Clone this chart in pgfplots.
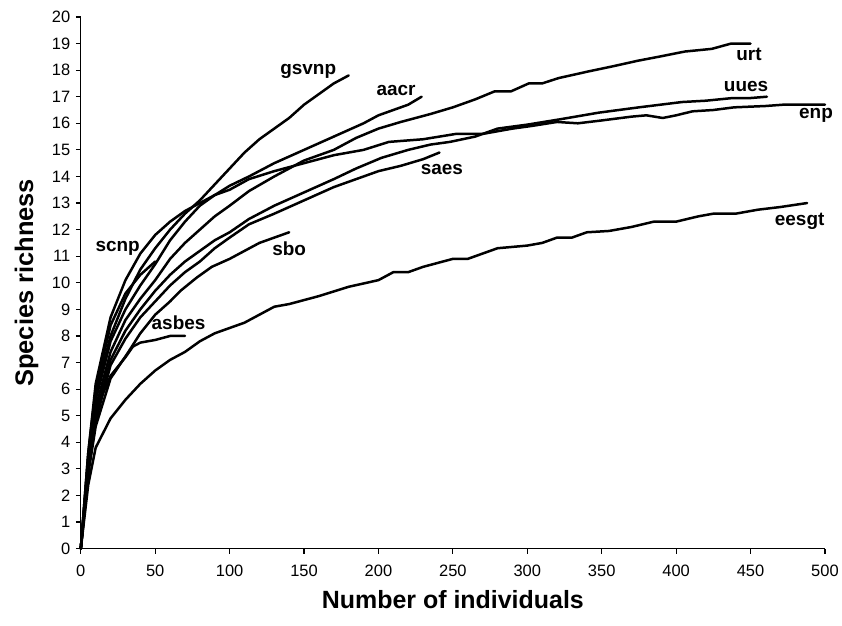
\documentclass[border=0pt]{standalone}
\usepackage{fontspec}
\setmainfont{Liberation Sans}
\usepackage{pgfplots}
\pgfplotsset{compat=1.18}
\tikzset{curve/.style={black, solid, mark=none, line width=2.5pt, line join=round, line cap=round}}
\begin{document}
\begin{tikzpicture}
\begin{axis}[
  scale only axis,
  width=746pt, height=533pt,
  xmin=0, xmax=500, ymin=0, ymax=20,
  axis x line*=bottom, axis y line*=left,
  axis line style={line width=1.4pt},
  xtick={0,50,...,500}, ytick={0,1,...,20},
  tick align=outside, major tick length=5pt,
  tick style={line width=1.2pt, black},
  /pgf/number format/assume math mode=true,
  ticklabel style={font=\fontsize{16.5}{19}\selectfont},
  xticklabel style={yshift=-8pt},
  yticklabel style={xshift=-2pt},
  xlabel={Number of individuals},
  ylabel={Species richness},
  xlabel style={font=\bfseries\fontsize{25}{29}\selectfont, at={(axis description cs:0.5,-0.096)}, anchor=center},
  ylabel style={font=\bfseries\fontsize{25.5}{29}\selectfont, at={(axis description cs:-0.073,0.5)}, anchor=center},
  clip=false,
]
% enp
\addplot[curve] coordinates {(0,0)(5,3.6)(10,6.2)(20,8.7)(30,10.1)(40,11.1)(50,11.8)(60,12.3)(70,12.7)(80,13.0)(90,13.3)(100,13.5)(113,13.9)(130,14.2)(150,14.5)(170,14.8)(190,15.0)(207,15.3)(230,15.4)(252,15.6)(270,15.6)(290,15.8)(303,15.9)(320,16.05)(334,16.0)(349,16.1)(370,16.25)(380,16.3)(391,16.2)(400,16.3)(411,16.45)(425,16.5)(439,16.6)(460,16.65)(472,16.7)(490,16.7)(500,16.7)};
% urt
\addplot[curve] coordinates {(0,0)(5,3.2)(10,5.3)(20,7.4)(30,8.6)(40,9.4)(50,10.1)(60,10.9)(70,11.5)(80,12.0)(90,12.5)(100,12.9)(113,13.45)(130,14.0)(150,14.6)(170,15.0)(185,15.45)(200,15.8)(215,16.05)(235,16.35)(250,16.6)(265,16.9)(278,17.2)(289,17.2)(301,17.5)(310,17.5)(321,17.7)(329,17.8)(341,17.95)(358,18.15)(374,18.35)(388,18.5)(406,18.7)(424,18.8)(437,19.0)(450,19.0)};
% uues
\addplot[curve] coordinates {(0,0)(5,3.0)(10,5.0)(20,7.1)(30,8.2)(40,9.0)(50,9.7)(60,10.3)(70,10.8)(80,11.2)(90,11.6)(100,11.9)(113,12.4)(130,12.9)(150,13.4)(170,13.9)(185,14.3)(202,14.7)(220,15.0)(235,15.2)(248,15.3)(265,15.5)(280,15.8)(300,15.95)(322,16.15)(348,16.4)(375,16.6)(404,16.8)(420,16.85)(438,16.95)(450,16.95)(461,17.0)};
% gsvnp
\addplot[curve] coordinates {(0,0)(5,3.4)(10,5.8)(20,8.0)(30,9.4)(40,10.5)(50,11.3)(60,12.0)(70,12.6)(80,13.1)(90,13.7)(100,14.3)(110,14.9)(120,15.4)(130,15.8)(140,16.2)(150,16.7)(160,17.1)(170,17.5)(180,17.8)};
% aacr
\addplot[curve] coordinates {(0,0)(5,3.3)(10,5.6)(20,7.8)(30,9.0)(40,9.9)(50,10.7)(60,11.6)(70,12.3)(80,12.9)(90,13.3)(100,13.65)(113,14.0)(130,14.5)(150,15.0)(170,15.5)(190,16.0)(200,16.3)(210,16.5)(220,16.7)(229,17.0)};
% saes
\addplot[curve] coordinates {(0,0)(5,2.9)(10,4.8)(20,6.9)(30,7.9)(40,8.7)(50,9.3)(60,9.9)(70,10.4)(80,10.8)(90,11.3)(100,11.7)(113,12.2)(130,12.6)(150,13.1)(170,13.6)(185,13.9)(200,14.2)(215,14.4)(230,14.65)(241,14.9)};
% sbo
\addplot[curve] coordinates {(0,0)(5,2.8)(10,4.6)(20,6.4)(32,7.4)(40,8.1)(50,8.8)(60,9.3)(67,9.7)(78,10.2)(88,10.6)(100,10.9)(110,11.2)(120,11.5)(130,11.7)(140,11.9)};
% asbes
\addplot[curve] coordinates {(0,0)(5,3.0)(10,5.2)(20,6.5)(30,7.2)(35,7.6)(40,7.75)(50,7.85)(60,8.0)(70,8.0)};
% eesgt
\addplot[curve] coordinates {(0,0)(5,2.4)(10,3.8)(20,4.9)(30,5.6)(40,6.2)(50,6.7)(60,7.1)(70,7.4)(80,7.8)(90,8.1)(100,8.3)(110,8.5)(120,8.8)(130,9.1)(140,9.2)(160,9.5)(180,9.85)(200,10.1)(210,10.4)(220,10.4)(230,10.6)(250,10.9)(260,10.9)(280,11.3)(300,11.4)(310,11.5)(320,11.7)(330,11.7)(340,11.9)(355,11.95)(370,12.1)(385,12.3)(400,12.3)(415,12.5)(425,12.6)(440,12.6)(455,12.75)(470,12.85)(488,13.0)};
% scnp
\addplot[curve] coordinates {(0,0)(5,3.6)(10,6.0)(20,8.4)(30,9.6)(40,10.3)(50,10.8)};
\begin{scope}[every node/.style={font=\bfseries\fontsize{19}{22}\selectfont, inner sep=0pt}]
\node at (axis cs:152.8,17.95) {gsvnp};
\node at (axis cs:211.8,17.25) {aacr};
\node at (axis cs:242.6,14.25) {saes};
\node at (axis cs:449,18.6) {urt};
\node at (axis cs:447,17.37) {uues};
\node at (axis cs:494,16.3) {enp};
\node at (axis cs:483,12.3) {eesgt};
\node at (axis cs:140,11.3) {sbo};
\node at (axis cs:24.8,11.3) {scnp};
\node at (axis cs:65.7,8.5) {asbes};
\end{scope}
\end{axis}
\path (current axis.south west) ++(-81pt,-77pt) rectangle ([shift={(15pt,17pt)}]current axis.north east);
\end{tikzpicture}
\end{document}
